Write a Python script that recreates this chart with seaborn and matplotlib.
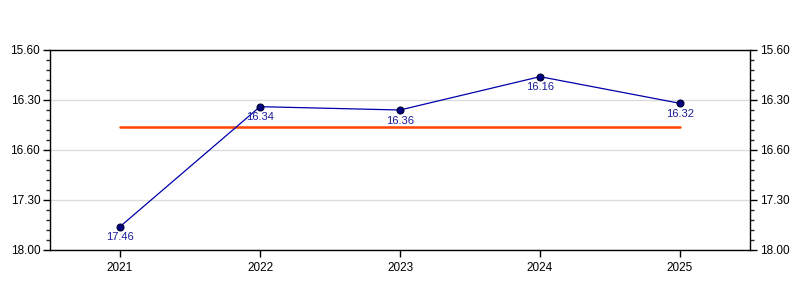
import matplotlib
matplotlib.use("Agg")
import matplotlib.pyplot as plt
import seaborn as sns
import pandas as pd
from matplotlib.ticker import MultipleLocator

years = ["2021", "2022", "2023", "2024", "2025"]
times = ["17.46", "16.34", "16.36", "16.16", "16.32"]  # minutes.seconds
target = "16.46"
ytick_values = [16.0, 16.5, 17.0, 17.5, 18.0]
ytick_labels = ["15.60", "16.30", "16.60", "17.30", "18.00"]

def to_minutes(s):
    m, sec = s.split(".")
    return int(m) + int(sec) / 60.0

df = pd.DataFrame({"year": years, "value": [to_minutes(t) for t in times], "label": times})
df["x"] = range(len(years))
tdf = pd.DataFrame({"x": [0, len(years) - 1], "value": [to_minutes(target)] * 2})

sns.set_style("white")
plt.rcParams["font.family"] = ["Liberation Sans", "DejaVu Sans"]

fig = plt.figure(figsize=(8, 3), dpi=100)
ax = fig.add_axes([50/800, 50/300, 700/800, 200/300])

for v in ytick_values:
    ax.axhline(v, color="#dcdcdc", lw=1, zorder=0)

sns.lineplot(data=tdf, x="x", y="value", ax=ax, color="#ff4500", lw=1.8, zorder=2)
sns.lineplot(data=df, x="x", y="value", ax=ax, color="#0000aa", lw=0.9, zorder=3,
             marker="o", markersize=5, markerfacecolor="#000080", markeredgecolor="#000033",
             markeredgewidth=0.8)

for _, r in df.iterrows():
    ax.annotate(r["label"], (r["x"], r["value"]), xytext=(0, -4), textcoords="offset points",
                ha="center", va="top", color="#1a1a99", fontsize=8)

ax.set_xlim(-0.5, len(years) - 0.5)
ax.set_ylim(18.0, 16.0)
ax.set_xticks(df["x"])
ax.set_xticklabels(years)
ax.set_yticks(ytick_values)
ax.set_yticklabels(ytick_labels)
ax.yaxis.set_minor_locator(MultipleLocator(0.1))
ax.set_xlabel("")
ax.set_ylabel("")

for s in ax.spines.values():
    s.set_color("black")
    s.set_linewidth(1)

ax.tick_params(axis="both", which="major", direction="out", length=5, width=1,
               colors="black", labelsize=8.5, left=True, bottom=True)
ax.tick_params(axis="y", which="minor", direction="out", length=3, width=1, left=True)
ax.tick_params(axis="y", which="both", right=True, labelright=True)
ax.tick_params(axis="y", which="major", pad=2)

fig.savefig("out.png", dpi=100, facecolor="white")
